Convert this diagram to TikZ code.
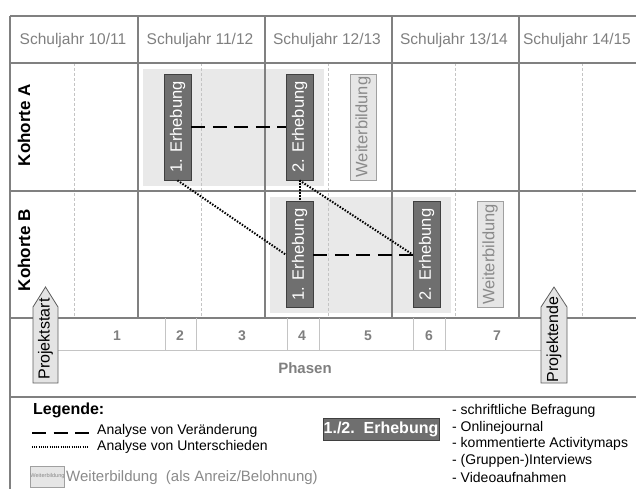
\documentclass[tikz,border=0pt]{standalone}
\usepackage{fontspec}
\setmainfont{Liberation Sans}
\usetikzlibrary{calc}
\definecolor{gridgray}{HTML}{808080}
\definecolor{lightline}{HTML}{C4C4C4}
\definecolor{periodfill}{HTML}{E9E9E9}
\definecolor{boxdark}{HTML}{6F6F6F}
\definecolor{boxedge}{HTML}{3F3F3F}
\definecolor{textgray}{HTML}{7F7F7F}
\definecolor{wbfill}{HTML}{E6E6E6}
\definecolor{wbedge}{HTML}{A0A0A0}
\definecolor{wbtext}{HTML}{8A8A8A}
\definecolor{arrowfill}{HTML}{E4E4E4}
\definecolor{arrowedge}{HTML}{606060}

\begin{document}
\begin{tikzpicture}[x=1pt,y=-1pt,
  gridline/.style={draw=gridgray,line width=1.6pt},
  midline/.style={draw=lightline,line width=0.6pt,dash pattern=on 3pt off 2pt},
  phaseline/.style={draw=lightline,line width=0.8pt},
  erhebung/.style={rotate=90,draw=boxedge,fill=boxdark,text=white,line width=0.8pt,
    minimum width=106pt,minimum height=27pt,inner sep=0pt,font=\fontsize{16.5}{18}\selectfont},
  wbox/.style={rotate=90,draw=wbedge,fill=wbfill,text=wbtext,line width=0.8pt,
    minimum width=106pt,minimum height=26pt,inner sep=0pt,font=\fontsize{16.5}{18}\selectfont},
  change/.style={line width=2pt,dash pattern=on 14pt off 7.5pt},
  diff/.style={line width=2pt,dash pattern=on 1.5pt off 1.5pt},
  yearlabel/.style={text=textgray,font=\fontsize{15.5}{18}\selectfont},
  cohort/.style={rotate=90,font=\bfseries\fontsize{17}{20}\selectfont},
  phasenum/.style={text=textgray,font=\bfseries\fontsize{14}{16}\selectfont},
  milestone/.style={draw=arrowedge,fill=arrowfill,line width=0.8pt},
  milestonetext/.style={rotate=90,font=\fontsize{16}{18}\selectfont,inner sep=0pt},
  legendtext/.style={anchor=west,inner sep=0pt,font=\fontsize{14}{16}\selectfont}
]
\useasboundingbox (0,0) rectangle (636,489);

% shaded survey periods
\fill[periodfill] (143,69) rectangle (324,186);
\fill[periodfill] (270,197) rectangle (451,313);

% half-year separators
\foreach \x in {74,201,328,455,582}
  \draw[midline] (\x,63) -- (\x,318);

% main grid
\draw[gridline] (10,16) -- (636,16);
\draw[gridline] (10,63) -- (636,63);
\draw[gridline] (10,191) -- (636,191);
\draw[gridline] (10,318) -- (636,318);
\draw[gridline] (10,397) -- (636,397);
\draw[gridline] (10,16) -- (10,489);
\foreach \x in {138,265,392,519}
  \draw[gridline] (\x,16) -- (\x,318);

% school years
\node[yearlabel] (y1) at (73,40) {Schuljahr 10/11};
\node[yearlabel] (y2) at (200,40) {Schuljahr 11/12};
\node[yearlabel] (y3) at (327,40) {Schuljahr 12/13};
\node[yearlabel] (y4) at (454,40) {Schuljahr 13/14};
\node[yearlabel] (y5) at (577,40) {Schuljahr 14/15};

% cohorts
\node[cohort] (ka) at (24,125) {Kohorte A};
\node[cohort] (kb) at (24,250) {Kohorte B};

% phases
\draw[phaseline] (58,350) -- (546,350);
\foreach \x in {165,196,287,319,413,445}
  \draw[phaseline] (\x,318) -- (\x,350);
\node[phasenum] (p1) at (117,336) {1};
\node[phasenum] (p2) at (180,336) {2};
\node[phasenum] (p3) at (242,336) {3};
\node[phasenum] (p4) at (302,336) {4};
\node[phasenum] (p5) at (368,336) {5};
\node[phasenum] (p6) at (429,336) {6};
\node[phasenum] (p7) at (497,336) {7};
\node[text=textgray,font=\bfseries\fontsize{15}{18}\selectfont] (phasen) at (305,368) {Phasen};

% surveys and trainings
\node[erhebung] (a1) at (177.5,127) {1. Erhebung};
\node[erhebung] (a2) at (299.5,127) {2. Erhebung};
\node[erhebung] (b1) at (299.5,254.5) {1. Erhebung};
\node[erhebung] (b2) at (426.5,254.5) {2. Erhebung};
\node[wbox] (wa) at (363,127) {Weiterbildung};
\node[wbox] (wb) at (490,254.5) {Weiterbildung};

% analyses (rotated nodes: south is the right side, north the left, west the bottom)
\draw[change] (a1.south) -- (a2.north);
\draw[change] (b1.south) -- (b2.north);
\draw[diff] (a1.west) -- (b1.north);
\draw[diff] (a2.west) -- (b1.east);
\draw[diff] (a2.west) -- (b2.north);

% project start and end
\draw[milestone] (33,383) -- (33,307) -- (45.5,287) -- (58,307) -- (58,383) -- cycle;
\node[milestonetext] (pstart) at (45.5,339) {Projektstart};
\draw[milestone] (541,383) -- (541,307) -- (554,287) -- (567,307) -- (567,383) -- cycle;
\node[milestonetext] (pend) at (554,339.5) {Projektende};

% legend
\node[anchor=west,inner sep=0pt,font=\bfseries\fontsize{16}{18}\selectfont] (leg) at (33,410) {Legende:};
\coordinate (lcs) at (32,433);
\coordinate (lce) at (89,433);
\draw[change] (lcs) -- (lce);
\node[legendtext] (lct) at (97,431) {Analyse von Veränderung};
\coordinate (lds) at (32,447);
\coordinate (lde) at (89,447);
\draw[line width=1.6pt,dash pattern=on 1pt off 1.2pt] (lds) -- (lde);
\node[legendtext] (ldt) at (97,447) {Analyse von Unterschieden};
\node[draw=wbedge,fill=wbfill,text=wbtext,line width=0.6pt,minimum width=31pt,minimum height=21pt,
  inner sep=0pt,font=\fontsize{5.6}{6}\selectfont] (lwb) at (47.5,476.5) {Weiterbildung};
\node[legendtext,text=wbtext,font=\fontsize{15}{18}\selectfont] (lwt) at (66,478) {Weiterbildung\ \ (als Anreiz/Belohnung)};
\node[draw=boxedge,fill=boxdark,text=white,line width=0.8pt,minimum width=116pt,minimum height=22pt,
  inner sep=0pt,font=\bfseries\fontsize{16}{18}\selectfont] (ler) at (381,429) {1./2.\ \ Erhebung};
\foreach \t [count=\i] in {schriftliche Befragung,Onlinejournal,kommentierte Activitymaps,(Gruppen-)Interviews,Videoaufnahmen}
  \node[legendtext] (m\i) at (452,{411+16.5*(\i-1)}) {- \t};
\end{tikzpicture}
\end{document}
